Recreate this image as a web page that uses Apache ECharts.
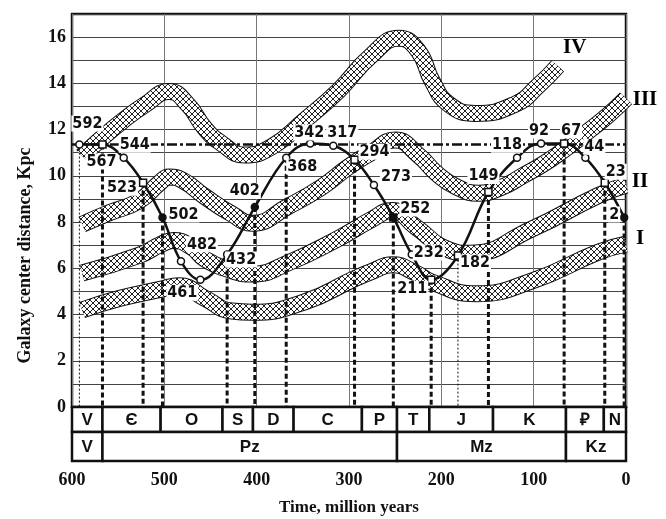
<!DOCTYPE html>
<html>
<head>
<meta charset="utf-8">
<title>Galaxy center distance</title>
<script src="https://cdn.jsdelivr.net/npm/echarts@6/dist/echarts.min.js"></script>
<style>
    html, body { margin: 0; padding: 0; background: #fff; }
    #chart { width: 666px; height: 519px; }
</style>
</head>
<body>
<div id="chart"></div>
<script>
// curve I: time, million years ago / distance to galaxy center, Kpc
var times = [592, 567, 544, 523, 502, 482, 461, 432, 402, 368, 342, 317, 294, 273, 252, 232, 211, 182, 149, 118, 92, 67, 44, 23, 2];
var distance = [11.35, 11.35, 10.78, 9.7, 8.2, 6.3, 5.5, 6.6, 8.65, 10.78, 11.4, 11.3, 10.7, 9.6, 8.2, 6.6, 5.5, 6.55, 9.3, 10.78, 11.4, 11.4, 10.78, 9.7, 8.2];
// o = open circle, s = open square, f = filled
var markers = ['o', 's', 'o', 's', 'fo', 'o', 'o', 'o', 'fo', 'o', 'o', 'o', 's', 'o', 'fs', 'o', 's', 's', 's', 'o', 'o', 's', 'o', 's', 'fo'];
var dropDashed = [567, 523, 502, 432, 402, 368, 294, 252, 211, 149, 67, 23, 2];
var dropDotted = [592, 182];
var refLevel = 11.35;

// hatched bands
var bandI = [[589, 4.2], [548, 4.7], [503, 5.1], [484, 5.25], [456, 4.7], [427, 4.15], [405, 4.1], [348, 4.55], [294, 5.55], [276, 5.85], [253, 6.15], [228, 5.8], [210, 5.4], [163, 4.9], [102, 5.45], [30, 6.7], [0, 7.05]];
var bandII = [[589, 5.8], [528, 6.55], [503, 7.05], [490, 7.2], [470, 6.9], [456, 6.4], [427, 5.9], [405, 5.75], [365, 6.25], [311, 7.3], [276, 8.1], [253, 8.5], [228, 7.8], [192, 6.8], [170, 6.65], [102, 7.7], [30, 9.15], [0, 9.6]];
var bandIII = [[589, 7.9], [560, 8.4], [528, 8.9], [505, 9.7], [495, 9.95], [480, 9.8], [456, 9.1], [427, 8.35], [405, 7.95], [365, 8.7], [330, 9.5], [300, 10.4], [276, 11.0], [250, 11.55], [225, 10.9], [205, 10.1], [185, 9.55], [160, 9.25], [135, 9.5], [112, 10.0], [90, 10.5], [68, 11.1], [45, 11.8], [20, 12.6], [0, 13.35]];
var bandIV = [[589, 10.85], [570, 11.55], [546, 12.35], [520, 13.1], [495, 13.65], [475, 13.1], [456, 12.05], [438, 11.4], [413, 10.9], [384, 11.25], [348, 12.4], [311, 13.7], [276, 15.2], [246, 15.95], [225, 15.4], [210, 14.1], [192, 13.1], [163, 12.7], [120, 13.1], [95, 13.9], [74, 14.75]];
var bandNames = ['I', 'II', 'III', 'IV'];

// geological time scale
var periods = ['V', 'Є', 'O', 'S', 'D', 'C', 'P', 'T', 'J', 'K', '₽', 'N'];
var periodStart = [600, 567, 504, 437, 404, 360, 286, 248, 213, 144, 65, 24];
var periodEnd = [567, 504, 437, 404, 360, 286, 248, 213, 144, 65, 24, 0];
var eras = ['V', 'Pz', 'Mz', 'Kz'];
var eraStart = [600, 567, 248, 65];
var eraEnd = [567, 248, 65, 0];

var yLabels = [0, 2, 4, 6, 8, 10, 12, 14, 16];

// label offsets in pixels (style only)
var labelOffset = {
    592: [8, -21], 567: [-1, 17], 544: [11, -13], 523: [-21, 5], 502: [21, -3],
    482: [21, -17], 461: [-18, 13], 432: [14, 5], 402: [-10, -16], 368: [16, 9],
    342: [-1, -11], 317: [9, -13], 294: [20, -8], 273: [22, -8], 252: [22, -9],
    232: [17, -2], 211: [-19, 9], 182: [17, 7], 149: [-5, -16], 118: [-10, -13],
    92: [-2, -13], 67: [7, -13], 44: [9, -11], 23: [11, -11], 2: [-10, -3]
};
var bandNameOffset = [[14, -5], [14, -3], [19, 1], [17, -18]];
var rowEdges = [0, 1, 2.16];

var SERIF = "'Liberation Serif', 'Times New Roman', serif";
var NARROW = "'Liberation Sans Narrow', 'Arial Narrow', 'DejaVu Sans Condensed', sans-serif";
var SANS = "'Liberation Sans', Arial, sans-serif";

window.onload = function () {
    initChart();
}

// small cross hatch tile for the bands
function makeHatch() {
    var c = document.createElement('canvas');
    c.width = 6;
    c.height = 6;
    var ctx = c.getContext('2d');
    ctx.fillStyle = '#fff';
    ctx.fillRect(0, 0, 6, 6);
    ctx.strokeStyle = '#222';
    ctx.lineWidth = 1;
    ctx.beginPath();
    ctx.moveTo(0, 0);
    ctx.lineTo(6, 6);
    ctx.moveTo(6, 0);
    ctx.lineTo(0, 6);
    ctx.stroke();
    return c;
}

function bandSeries(data, hatch) {
    return [{
        type: 'line', data: data, smooth: 0.5, showSymbol: false, silent: true, z: 2,
        lineStyle: { color: '#111', width: 17 }
    }, {
        type: 'line', data: data, smooth: 0.5, showSymbol: false, silent: true, z: 3,
        lineStyle: { color: { image: hatch, repeat: 'repeat' }, width: 15 }
    }];
}

function valueAt(t) {
    return distance[times.indexOf(t)];
}

function initChart() {
    var chart = echarts.init(document.getElementById('chart'));
    var hatch = makeHatch();

    var curveData = times.map(function (t, i) {
        var m = markers[i];
        return {
            value: [t, distance[i]],
            symbol: m.indexOf('s') >= 0 ? 'rect' : 'circle',
            symbolSize: 7,
            itemStyle: {
                color: m.charAt(0) === 'f' ? '#111' : '#fff',
                borderColor: '#111',
                borderWidth: 1.5
            },
            label: { offset: labelOffset[t] }
        };
    });

    var dropData = [];
    dropDashed.forEach(function (t) { dropData.push([t, valueAt(t), 0]); });
    dropDotted.forEach(function (t) { dropData.push([t, valueAt(t), 1]); });

    var tableData = [];
    var tableText = [];
    periods.forEach(function (p, i) {
        tableData.push([periodStart[i], periodEnd[i], 0]);
        tableText.push(p);
    });
    eras.forEach(function (p, i) {
        tableData.push([eraStart[i], eraEnd[i], 1]);
        tableText.push(p);
    });

    var ends = [bandI, bandII, bandIII, bandIV].map(function (b, i) {
        return {
            value: b[b.length - 1],
            name: bandNames[i],
            label: { offset: bandNameOffset[i] }
        };
    });

    var series = [];
    series = series.concat(bandSeries(bandI, hatch), bandSeries(bandII, hatch),
        bandSeries(bandIII, hatch), bandSeries(bandIV, hatch));

    // vertical drop lines
    series.push({
        type: 'custom', data: dropData, z: 5, silent: true,
        renderItem: function (params, api) {
            var a = api.coord([api.value(0), api.value(1)]);
            var b = api.coord([api.value(0), 0]);
            var thin = api.value(2) === 1;
            return {
                type: 'line',
                shape: { x1: a[0], y1: a[1], x2: b[0], y2: b[1] },
                style: { stroke: '#111', lineWidth: thin ? 1 : 3, lineDash: thin ? [2, 2] : [5, 3] }
            };
        }
    });

    // dash-dot level line
    series.push({
        type: 'line', data: [[600, refLevel], [0, refLevel]], showSymbol: false, silent: true, z: 6,
        lineStyle: { color: '#111', width: 2.5, type: [10, 3, 3, 3] }
    });

    // curve I
    series.push({
        type: 'line', data: curveData, smooth: 0.4, z: 10, silent: true,
        lineStyle: { color: '#111', width: 2.5 },
        label: {
            show: true, position: 'inside', formatter: function (p) { return String(p.value[0]); },
            fontFamily: NARROW, fontWeight: 'bold', fontSize: 16, color: '#111',
            backgroundColor: '#fff', padding: [0, 1]
        }
    });

    // band names
    series.push({
        type: 'scatter', data: ends, symbolSize: 1, clip: false, silent: true, z: 11,
        itemStyle: { color: 'rgba(0,0,0,0)', opacity: 1 },
        label: {
            show: true, position: 'inside', formatter: '{b}', opacity: 1,
            fontFamily: SERIF, fontWeight: 'bold', fontSize: 21, color: '#000',
            textBorderWidth: 0
        }
    });

    // time scale table
    series.push({
        type: 'custom', xAxisIndex: 1, yAxisIndex: 1, data: tableData, silent: true, z: 4,
        renderItem: function (params, api) {
            var row = api.value(2);
            var a = api.coord([api.value(0), rowEdges[row]]);
            var b = api.coord([api.value(1), rowEdges[row + 1]]);
            return {
                type: 'group',
                children: [{
                    type: 'rect',
                    shape: { x: a[0], y: a[1], width: b[0] - a[0], height: b[1] - a[1] },
                    style: { fill: '#fff', stroke: '#111', lineWidth: 2.5 }
                }, {
                    type: 'text',
                    style: {
                        text: tableText[params.dataIndex],
                        x: (a[0] + b[0]) / 2, y: (a[1] + b[1]) / 2 + 1,
                        align: 'center', verticalAlign: 'middle',
                        font: 'bold 17px ' + SANS, fill: '#111'
                    }
                }]
            };
        }
    });

    chart.setOption({
        animation: false,
        backgroundColor: '#fff',
        grid: [
            { left: 72, right: 40, top: 14, height: 393, show: true, borderColor: '#111', borderWidth: 2.5,
              containLabel: false, outerBoundsMode: 'none' },
            { left: 72, right: 40, top: 407, height: 54, containLabel: false, outerBoundsMode: 'none' }
        ],
        xAxis: [{
            gridIndex: 0, type: 'value', min: 0, max: 600, interval: 100, inverse: true,
            axisLine: { show: false }, axisTick: { show: false }, axisLabel: { show: false },
            splitLine: { show: true, lineStyle: { color: '#777', width: 1 } }
        }, {
            gridIndex: 1, type: 'value', min: 0, max: 600, interval: 100, inverse: true,
            axisLine: { show: true, lineStyle: { color: '#111', width: 2.5 } },
            axisTick: { show: true, length: 5, lineStyle: { color: '#111', width: 2 } },
            axisLabel: { margin: 10, fontFamily: SERIF, fontWeight: 'bold', fontSize: 18, color: '#111' },
            splitLine: { show: false },
            name: 'Time, million years', nameLocation: 'middle', nameGap: 38,
            nameTextStyle: { fontFamily: SERIF, fontWeight: 'bold', fontSize: 17, color: '#111' }
        }],
        yAxis: [{
            gridIndex: 0, type: 'value', min: 0, max: 17, interval: 1,
            axisLine: { show: false }, axisTick: { show: false },
            axisLabel: {
                margin: 6, fontFamily: SERIF, fontWeight: 'bold', fontSize: 18, color: '#111',
                formatter: function (v) { return yLabels.indexOf(v) >= 0 ? String(v) : ''; }
            },
            splitLine: { show: true, lineStyle: { color: '#444', width: 1 } },
            name: 'Galaxy center distance, Kpc', nameLocation: 'middle', nameGap: 38,
            nameTextStyle: { fontFamily: SERIF, fontWeight: 'bold', fontSize: 18, color: '#111', padding: [0, 90, 0, 0] }
        }, {
            gridIndex: 1, type: 'value', min: 0, max: 2.16, inverse: true, show: false
        }],
        series: series
    });
}
</script>
</body>
</html>
